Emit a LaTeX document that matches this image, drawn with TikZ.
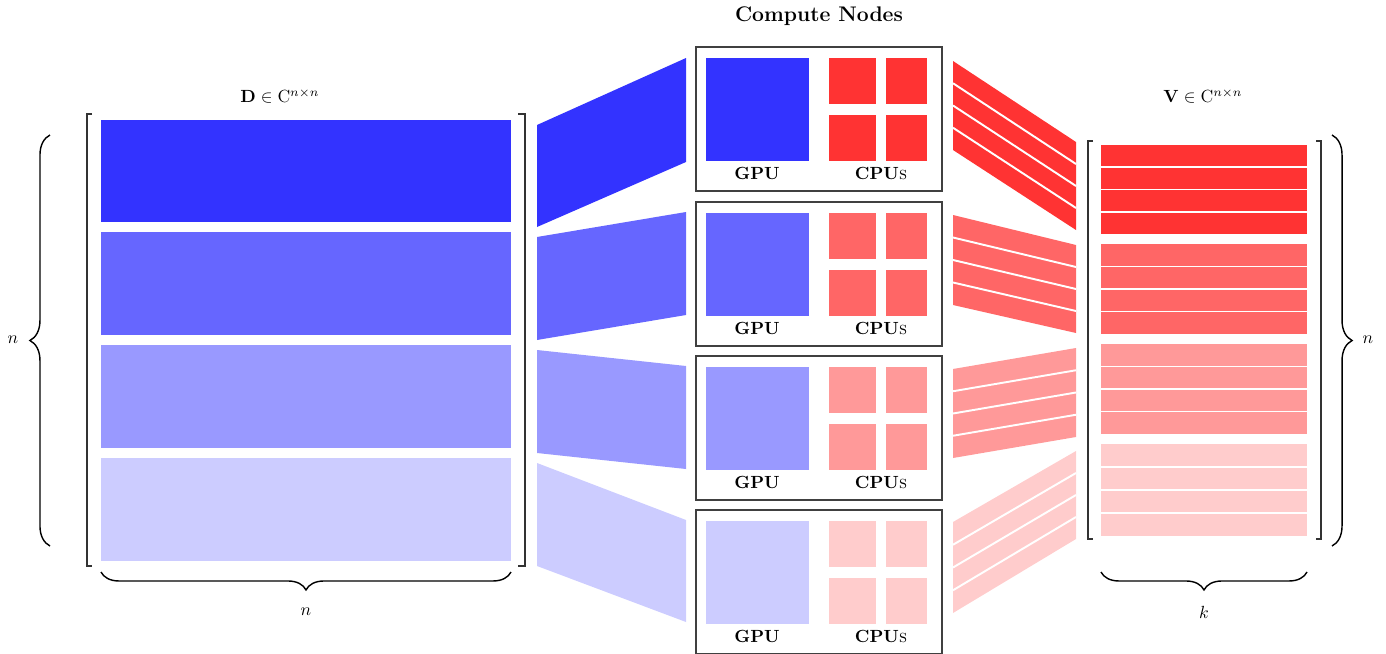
\documentclass[tikz,border=0pt]{standalone}
\usetikzlibrary{decorations.pathreplacing}
\definecolor{bA}{HTML}{3333FF}
\definecolor{bB}{HTML}{6666FF}
\definecolor{bC}{HTML}{9999FF}
\definecolor{bD}{HTML}{CCCCFF}
\definecolor{rA}{HTML}{FF3333}
\definecolor{rB}{HTML}{FF6666}
\definecolor{rC}{HTML}{FF9999}
\definecolor{rD}{HTML}{FFCCCC}
\begin{document}
\begin{tikzpicture}[x=0.568pt,y=-0.568pt,
  brk/.style={draw=black!80,line width=0.7pt},
  brc/.style={decorate,decoration={brace,amplitude=#1},draw=black,line width=0.8pt},
  nodebox/.style={draw=black!75,line width=0.6pt},
  sep/.style={draw=white,line width=1.1pt},
  lbl/.style={inner sep=0pt}]
\useasboundingbox (0,0) rectangle (1386,654);

% title
\node[lbl] (title) at (819,16) {\large\bfseries Compute Nodes};

% ---------- matrix D ----------
\node[lbl] (dlab) at (280,96) {$\mathbf{D}\in\mathrm{C}^{n\times n}$};
\fill[bA] (101,120) rectangle (511,222);
\fill[bB] (101,232) rectangle (511,335);
\fill[bC] (101,345) rectangle (511,448);
\fill[bD] (101,458) rectangle (511,561);
\draw[brk] (92,114) -- (87,114) -- (87,566) -- (92,566);
\draw[brk] (518,114) -- (525,114) -- (525,566) -- (518,566);
\draw[brc=11.4pt] (50,546) -- (50,135);
\node[lbl] (nleft) at (13,340) {$n$};
\draw[brc=10.2pt] (511,572) -- (101,572);
\node[lbl] (nbot) at (306,612) {$n$};

% ---------- left connectors ----------
\fill[bA] (537,125) -- (686,58) -- (686,162) -- (537,227) -- cycle;
\fill[bB] (537,237) -- (686,212) -- (686,315) -- (537,340) -- cycle;
\fill[bC] (537,350) -- (686,366) -- (686,469) -- (537,453) -- cycle;
\fill[bD] (537,463) -- (686,520) -- (686,622) -- (537,566) -- cycle;

% ---------- compute nodes ----------
\foreach \t/\g/\c in {47/bA/rA, 202/bB/rB, 356/bC/rC, 510/bD/rD} {
  \draw[nodebox] (696,\t) rectangle (942,\t+144);
  \fill[\g] (706,\t+11) rectangle (809,\t+114);
  \fill[\c] (829,\t+11) rectangle (876,\t+57);
  \fill[\c] (886,\t+11) rectangle (927,\t+57);
  \fill[\c] (829,\t+68) rectangle (876,\t+114);
  \fill[\c] (886,\t+68) rectangle (927,\t+114);
  \node[lbl] (gpu\t) at (757,\t+126) {\textbf{GPU}};
  \node[lbl] (cpu\t) at (881,\t+126) {\textbf{CPU}\textsc{s}};
}

% ---------- right connectors ----------
\foreach \L/\Lb/\R/\Rb/\c in {61/150/142/230/rA, 215/305/245/333/rB, 369/458/348/437/rC, 522/613/451/539/rD} {
  \fill[\c] (953,\L) -- (1076,\R) -- (1076,\Rb) -- (953,\Lb) -- cycle;
  \foreach \i in {1,2,3}
    \draw[sep] (953,{\L+(\Lb-\L)*\i/4}) -- (1076,{\R+(\Rb-\R)*\i/4});
}

% ---------- matrix V ----------
\node[lbl] (vlab) at (1203,96) {$\mathbf{V}\in\mathrm{C}^{n\times n}$};
\foreach \a/\b/\c in {145/234/rA, 244/334/rB, 344/434/rC, 444/536/rD} {
  \fill[\c] (1101,\a) rectangle (1307,\b);
  \foreach \i in {1,2,3}
    \draw[sep] (1101,{\a+(\b-\a)*\i/4}) -- (1307,{\a+(\b-\a)*\i/4});
}
\draw[brk] (1093,141) -- (1088,141) -- (1088,539) -- (1093,539);
\draw[brk] (1316,141) -- (1321,141) -- (1321,539) -- (1316,539);
\draw[brc=11.4pt] (1332,135) -- (1332,546);
\node[lbl] (nright) at (1368,340) {$n$};
\draw[brc=10.2pt] (1307,572) -- (1101,572);
\node[lbl] (kbot) at (1204,612) {$k$};
\end{tikzpicture}
\end{document}
